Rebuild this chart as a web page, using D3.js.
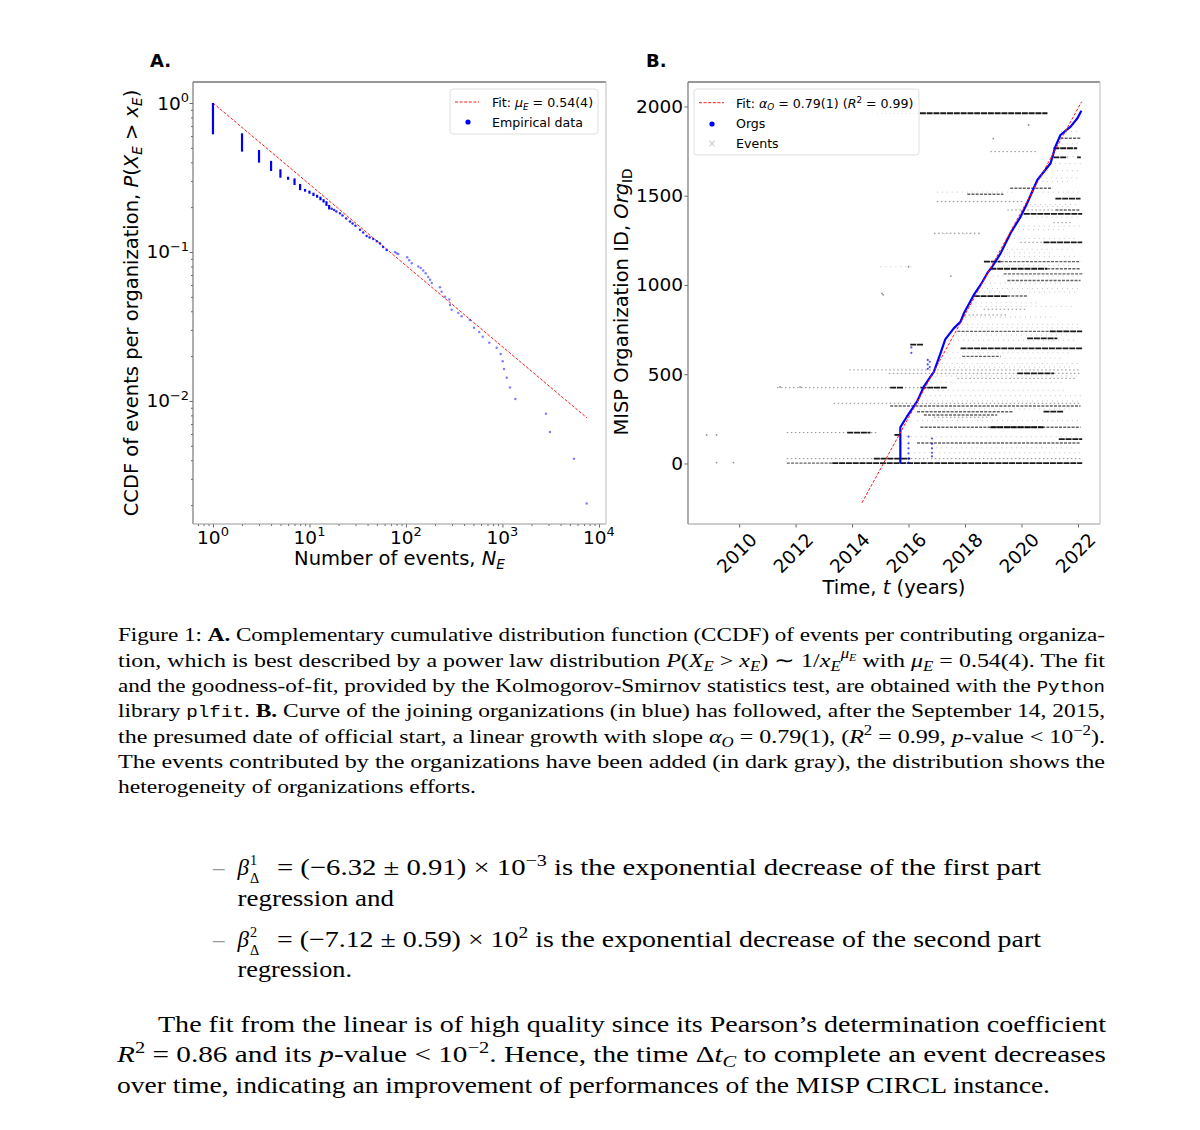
<!DOCTYPE html>
<html><head><meta charset="utf-8">
<script src="https://cdn.jsdelivr.net/npm/d3@7"></script>
<style>html,body{margin:0;padding:0;background:#fff;} svg{display:block;}</style>
</head><body>
<svg id="c" width="1200" height="1130"></svg>
<script>
// ---------------- DATA ----------------
// Panel A: CCDF of events per organization (log-log)
const stackN   = [1, 2, 3, 4, 5, 6, 7, 8, 9, 10, 11, 12, 13, 14, 15, 16];
const stackTop = [1.000, 0.626, 0.484, 0.409, 0.359, 0.320, 0.312, 0.286, 0.265, 0.258, 0.250, 0.242, 0.235, 0.226, 0.219, 0.207];
const stackBot = [0.626, 0.479, 0.404, 0.355, 0.320, 0.310, 0.286, 0.264, 0.258, 0.250, 0.241, 0.235, 0.226, 0.218, 0.207, 0.196];
const tailN = [17, 18, 19, 20.7, 22, 24, 26.3, 28, 30, 33.4, 36, 39.1, 42, 45.8, 50, 53.8, 58, 63.1,
               76.9, 80, 83.2, 103, 108, 115, 134, 142, 151, 160, 170, 178, 185, 225, 234, 254, 281, 286, 298,
               348, 378, 460, 507, 575, 624, 730, 871, 958, 1005, 1037, 1106, 1197, 1359, 2827, 3105, 5508, 7460];
const tailP = [0.195, 0.191, 0.187, 0.182, 0.176, 0.168, 0.160, 0.155, 0.150, 0.141, 0.135, 0.128, 0.125, 0.122, 0.118, 0.114, 0.108, 0.103,
               0.100, 0.098, 0.097, 0.092, 0.088, 0.084, 0.080, 0.078, 0.075, 0.072, 0.068, 0.065, 0.062, 0.058, 0.054, 0.050, 0.048, 0.044, 0.041,
               0.039, 0.037, 0.035, 0.031, 0.029, 0.027, 0.0246, 0.0228, 0.0207, 0.0185, 0.0164, 0.0143, 0.0123, 0.0103, 0.0082, 0.0062, 0.0041, 0.00205];
const fitAN = [1, 7500];
const fitAP = [1.0, 0.0077];
const xTickA = [1, 10, 100, 1000, 10000];
const xTickAExp = ['0', '1', '2', '3', '4'];
const yTickA = [0.01, 0.1, 1];
const yTickAExp = ['−2', '−1', '0'];

// Panel B: organization IDs over time
const orgT = [2015.71, 2015.71, 2015.94, 2016.3, 2016.54, 2016.9, 2017.13, 2017.3, 2017.6, 2017.84, 2017.96, 2018.31, 2018.55,
              2018.79, 2018.96, 2019.26, 2019.61, 2019.96, 2020.2, 2020.56, 2021.03, 2021.2, 2021.38, 2021.74, 2021.98, 2022.12];
const orgV = [0, 203, 262, 346, 430, 514, 617, 695, 757, 794, 841, 944, 1000,
              1066, 1102, 1177, 1290, 1380, 1458, 1588, 1682, 1775, 1840, 1887, 1934, 1976];
const orgOutT = [2016.0, 2016.0, 2016.0, 2016.0, 2016.0, 2016.0, 2016.83, 2016.83, 2016.83, 2016.83, 2016.83, 2016.68, 2016.68, 2016.68, 2016.75, 2016.75, 2016.1, 2016.1];
const orgOutV = [150, 113, 85, 57, 29, 5, 140, 110, 85, 60, 40, 580, 555, 530, 570, 540, 620, 650];
const fitBT = [2014.35, 2022.13];
const fitBV = [-220, 2027];
// event streaks: [orgID, start year, end year, density level 0..3]
const eventRows = [
  [1962, 2014.88, 2016.4, 1], [1962, 2016.4, 2020.92, 3],
  [1822, 2021.38, 2022.09, 2], [1766, 2021.13, 2021.97, 3], [1747, 2018.9, 2020.56, 1],
  [1715, 2021.13, 2021.62, 3], [1715, 2021.97, 2022.1, 3],
  [1542, 2019.6, 2021.09, 2], [1508, 2018.08, 2019.36, 2], [1484, 2021.2, 2022.09, 3],
  [1467, 2017.0, 2020.07, 1], [1420, 2019.5, 2021.2, 1], [1420, 2021.2, 2022.09, 2],
  [1398, 2020.08, 2022.15, 3], [1349, 2021.13, 2021.74, 1], [1290, 2016.9, 2018.55, 1],
  [1239, 2019.96, 2020.78, 1], [1239, 2020.78, 2022.15, 3],
  [1131, 2018.67, 2019.26, 3], [1131, 2019.26, 2022.09, 2],
  [1091, 2018.9, 2020.91, 3], [1091, 2020.91, 2022.09, 2],
  [1062, 2019.37, 2022.15, 2], [1025, 2019.5, 2022.09, 2],
  [938, 2018.31, 2019.49, 3], [938, 2019.49, 2020.2, 2],
  [864, 2018.66, 2020.2, 1], [832, 2017.98, 2019.5, 1],
  [740, 2017.73, 2021.0, 2], [740, 2021.0, 2022.15, 3],
  [701, 2020.2, 2021.27, 3], [666, 2016.06, 2016.53, 3], [645, 2017.84, 2022.15, 3],
  [600, 2017.9, 2019.26, 2], [524, 2013.9, 2022.1, 1],
  [505, 2015.3, 2019.85, 1], [505, 2019.85, 2021.15, 3], [505, 2021.15, 2022.09, 1],
  [477, 2017.73, 2021.97, 1],
  [425, 2011.34, 2017.37, 1], [425, 2015.35, 2015.82, 3], [425, 2016.42, 2017.37, 3],
  [337, 2013.35, 2022.09, 1], [322, 2015.35, 2022.09, 2],
  [290, 2016.3, 2019.7, 2], [290, 2020.78, 2021.5, 3],
  [272, 2016.54, 2019.14, 2], [259, 2016.9, 2018.9, 1],
  [203, 2016.42, 2022.09, 2], [203, 2018.9, 2020.78, 3],
  [173, 2011.69, 2014.88, 1], [173, 2013.83, 2014.65, 3], [160, 2015.5, 2015.7, 3],
  [136, 2021.32, 2022.15, 3], [115, 2016.3, 2022.09, 2],
  [27, 2011.69, 2022.09, 1], [27, 2014.77, 2016.06, 3],
  [2, 2011.69, 2013.3, 2], [2, 2013.3, 2022.15, 3],
  [60, 2016.2, 2022.1, 0], [88, 2016.8, 2021.9, 0], [150, 2015.9, 2022.0, 0], [240, 2016.3, 2022.0, 0],
  [305, 2016.2, 2021.8, 0], [350, 2016.3, 2022.1, 0], [380, 2016.4, 2022.1, 0], [410, 2016.5, 2021.6, 0],
  [455, 2016.6, 2021.5, 0], [490, 2016.8, 2022.0, 0], [540, 2016.9, 2021.8, 0], [560, 2017.0, 2022.1, 0],
  [590, 2017.1, 2021.4, 0], [620, 2017.2, 2021.7, 0], [690, 2017.4, 2022.0, 0], [720, 2017.5, 2021.6, 0],
  [760, 2017.7, 2022.0, 0], [780, 2017.9, 2022.1, 0], [820, 2018.0, 2021.2, 0], [880, 2018.2, 2021.9, 0],
  [900, 2018.2, 2020.6, 0], [960, 2018.5, 2022.0, 0], [980, 2018.6, 2022.1, 0], [1010, 2018.7, 2021.5, 0],
  [1050, 2018.8, 2022.1, 0], [1110, 2019.0, 2021.8, 0], [1160, 2019.2, 2022.0, 0], [1180, 2019.2, 2021.0, 0],
  [1200, 2019.3, 2021.8, 0], [1260, 2019.55, 2022.0, 0], [1310, 2019.7, 2021.5, 0], [1330, 2019.9, 2022.1, 0],
  [1380, 2020.0, 2022.0, 0], [1440, 2020.2, 2021.7, 0], [1450, 2020.3, 2022.0, 0], [1520, 2020.4, 2022.1, 0],
  [1580, 2020.55, 2021.8, 0], [1600, 2020.7, 2022.1, 0], [1640, 2020.9, 2022.0, 0], [1680, 2021.0, 2022.1, 0],
  [1720, 2021.1, 2022.0, 0], [1790, 2021.25, 2022.1, 0], [1860, 2021.4, 2022.1, 0], [1930, 2021.9, 2022.1, 0],
  [1102, 2015.0, 2016.2, 0], [1286, 2016.9, 2018.6, 0], [1520, 2017.0, 2019.8, 0]
];
const eventDotT = [2008.85, 2009.2, 2009.2, 2009.8, 2015.1, 2015.06, 2020.25, 2011.45, 2012.16, 2016.0, 2017.5, 2019.0];
const eventDotV = [160, 160, 5, 5, 945, 953, 1896, 429, 429, 1102, 1050, 1820];
const yearTicks = [2010, 2012, 2014, 2016, 2018, 2020, 2022];
const orgTicks = [0, 500, 1000, 1500, 2000];

// ---------------- DRAWING ----------------
const svg = d3.select('#c');
svg.append('rect').attr('width', 1200).attr('height', 1130).attr('fill', '#fff');
const SANS = "'DejaVu Sans', sans-serif";
const SERIF = "'Liberation Serif', 'Times New Roman', serif";
const MONO = "'Liberation Mono', monospace";

const n = t => ({t});
const it = t => ({t, i: 1});
const bd = t => ({t, b: 1});
const tt = t => ({t, tt: 1, sz: 0.82});
const sub = (t, i) => ({t, i, sz: 0.7, off: 0.22});
const sup = (t, i) => ({t, i, sz: 0.7, off: -0.38});

function rich(parent, x, y, segs, fs, family, anchor, fill) {
  const t = parent.append('text').attr('x', x).attr('y', y).attr('font-size', fs)
    .attr('font-family', family).attr('fill', fill || '#000');
  if (anchor) t.attr('text-anchor', anchor);
  let cur = 0;
  segs.forEach(s => {
    const sz = (s.sz || 1) * fs;
    const off = (s.off || 0) * fs;
    const ts = t.append('tspan').text(s.t).attr('font-size', sz);
    if (off !== cur) ts.attr('dy', off - cur);
    if (s.dx) ts.attr('dx', s.dx);
    cur = off;
    if (s.i) ts.attr('font-style', 'italic');
    if (s.b) ts.attr('font-weight', 'bold');
    if (s.tt) ts.attr('font-family', MONO);
  });
  return t;
}

function spines(g, x0, x1, y0, y1) {
  g.append('line').attr('x1', x0).attr('x2', x1).attr('y1', y0).attr('y2', y0).attr('stroke', '#333').attr('stroke-width', 1.2);
  g.append('line').attr('x1', x0).attr('x2', x0).attr('y1', y0).attr('y2', y1).attr('stroke', '#777').attr('stroke-width', 1.2);
  g.append('line').attr('x1', x0).attr('x2', x1).attr('y1', y1).attr('y2', y1).attr('stroke', '#999').attr('stroke-width', 1.2);
  g.append('line').attr('x1', x1).attr('x2', x1).attr('y1', y0).attr('y2', y1).attr('stroke', '#c8c8c8').attr('stroke-width', 1.2);
}

function styleAxis(sel) {
  sel.select('.domain').remove();
  sel.selectAll('.tick line').attr('stroke', '#666');
}

const defs = svg.append('defs');
defs.append('clipPath').attr('id', 'clipA').append('rect').attr('x', 193).attr('y', 82).attr('width', 413).attr('height', 442);
defs.append('clipPath').attr('id', 'clipB').append('rect').attr('x', 688).attr('y', 82).attr('width', 412).attr('height', 442);

const TICK_FS = 18.5, LAB_FS = 19.5, LEG_FS = 12.6;

// ===== Panel A =====
const gA = svg.append('g');
const xA = d3.scaleLog().domain([Math.pow(10, -0.207), Math.pow(10, 4.073)]).range([193, 606]);
const yA = d3.scaleLog().domain([Math.pow(10, -2.826), Math.pow(10, 0.141)]).range([524, 82]);

const minorXA = [], minorYA = [];
for (let e = -1; e <= 4; e++) for (let m = 2; m <= 9; m++) { const v = m * Math.pow(10, e); if (v >= xA.domain()[0] && v <= xA.domain()[1]) minorXA.push(v); }
for (let e = -3; e <= 0; e++) for (let m = 2; m <= 9; m++) { const v = m * Math.pow(10, e); if (v >= yA.domain()[0] && v <= yA.domain()[1]) minorYA.push(v); }

styleAxis(gA.append('g').attr('transform', 'translate(0,524)').call(d3.axisBottom(xA).tickValues(xTickA).tickSize(3.5).tickFormat('')));
styleAxis(gA.append('g').attr('transform', 'translate(0,524)').call(d3.axisBottom(xA).tickValues(minorXA).tickSize(2).tickFormat('')));
styleAxis(gA.append('g').attr('transform', 'translate(193,0)').call(d3.axisLeft(yA).tickValues(yTickA).tickSize(3.5).tickFormat('')));
styleAxis(gA.append('g').attr('transform', 'translate(193,0)').call(d3.axisLeft(yA).tickValues(minorYA).tickSize(2).tickFormat('')));

xTickA.forEach((v, k) => rich(gA, xA(v), 543.5, [n('10'), sup(xTickAExp[k])], TICK_FS, SANS, 'middle'));
yTickA.forEach((v, k) => rich(gA, 189, yA(v) + 6.5, [n('10'), sup(yTickAExp[k])], TICK_FS, SANS, 'end'));

const plotA = gA.append('g').attr('clip-path', 'url(#clipA)');
plotA.append('line').attr('x1', xA(fitAN[0])).attr('y1', yA(fitAP[0])).attr('x2', xA(fitAN[1])).attr('y2', yA(fitAP[1]))
  .attr('stroke', '#ff1a1a').attr('stroke-width', 1).attr('stroke-dasharray', '3,1.6');
plotA.selectAll('line.stk').data(stackN).enter().append('line').attr('class', 'stk')
  .attr('x1', d => xA(d)).attr('x2', d => xA(d))
  .attr('y1', (d, k) => yA(stackTop[k])).attr('y2', (d, k) => yA(stackBot[k]) + 1)
  .attr('stroke', '#0000ee').attr('stroke-width', 2.2);
plotA.selectAll('circle.tail').data(tailN).enter().append('circle').attr('class', 'tail')
  .attr('cx', d => xA(d)).attr('cy', (d, k) => yA(tailP[k])).attr('r', 1.25)
  .attr('fill', '#0000ff').attr('fill-opacity', (d, k) => k < 18 ? 0.85 : 0.5);

spines(gA, 193, 606, 82, 524);

rich(gA, 399.5, 565, [n('Number of events, '), it('N'), sub('E', 1)], LAB_FS, SANS, 'middle');
rich(gA.append('g').attr('transform', 'translate(138,303) rotate(-90)'), 0, 0,
  [n('CCDF of events per organization, '), it('P'), n('('), it('X'), sub('E', 1), n(' > '), it('x'), sub('E', 1), n(')')], LAB_FS, SANS, 'middle');
gA.append('text').attr('x', 150).attr('y', 67).attr('font-family', SANS).attr('font-weight', 'bold').attr('font-size', 18).text('A.');

const lgA = gA.append('g');
lgA.append('rect').attr('x', 450).attr('y', 89).attr('width', 148).attr('height', 45).attr('rx', 3)
  .attr('fill', '#fff').attr('fill-opacity', 0.8).attr('stroke', '#e0e0e0');
lgA.append('line').attr('x1', 455).attr('x2', 479).attr('y1', 102).attr('y2', 102).attr('stroke', '#ff1a1a').attr('stroke-dasharray', '3,1.6');
rich(lgA, 492, 107, [n('Fit: '), it('μ'), sub('E', 1), n(' = 0.54(4)')], LEG_FS, SANS);
lgA.append('circle').attr('cx', 468).attr('cy', 122).attr('r', 2.6).attr('fill', '#0000ff');
rich(lgA, 492, 126.5, [n('Empirical data')], LEG_FS, SANS);

// ===== Panel B =====
const gB = svg.append('g');
const xB = d3.scaleLinear().domain([2008.19, 2022.78]).range([688, 1100]);
const yB = d3.scaleLinear().domain([-339, 2137]).range([524, 82]);

styleAxis(gB.append('g').attr('transform', 'translate(0,524)').call(d3.axisBottom(xB).tickValues(yearTicks).tickSize(3.5).tickFormat('')));
styleAxis(gB.append('g').attr('transform', 'translate(688,0)').call(d3.axisLeft(yB).tickValues(orgTicks).tickSize(3.5).tickFormat('')));
yearTicks.forEach(v => {
  gB.append('text').attr('transform', `translate(${xB(v) - 2.3},553) rotate(-45)`)
    .attr('text-anchor', 'middle').attr('dominant-baseline', 'central')
    .attr('font-family', SANS).attr('font-size', TICK_FS).text(v);
});
orgTicks.forEach(v => {
  gB.append('text').attr('x', 683).attr('y', yB(v) + 6.5).attr('text-anchor', 'end')
    .attr('font-family', SANS).attr('font-size', TICK_FS).text(v);
});

const plotB = gB.append('g').attr('clip-path', 'url(#clipB)');
const lvlStyle = [
  {c: '#444', w: 1, d: '1,4', o: 0.3},
  {c: '#222', w: 1, d: '1.5,2.5', o: 0.5},
  {c: '#111', w: 1.4, d: '3,1.2', o: 0.65},
  {c: '#000', w: 1.8, d: '6,0.8', o: 0.9}
];
plotB.selectAll('line.ev').data(eventRows).enter().append('line').attr('class', 'ev')
  .attr('x1', d => xB(d[1])).attr('x2', d => xB(d[2]))
  .attr('y1', d => yB(d[0])).attr('y2', d => yB(d[0]))
  .attr('stroke', d => lvlStyle[d[3]].c).attr('stroke-width', d => lvlStyle[d[3]].w)
  .attr('stroke-dasharray', d => lvlStyle[d[3]].d).attr('stroke-opacity', d => lvlStyle[d[3]].o);
plotB.selectAll('circle.evd').data(eventDotT).enter().append('circle').attr('class', 'evd')
  .attr('cx', d => xB(d)).attr('cy', (d, k) => yB(eventDotV[k])).attr('r', 0.9).attr('fill', '#444').attr('fill-opacity', 0.6);

const orgLine = d3.line().x(d => xB(d[0])).y(d => yB(d[1]));
plotB.append('path').attr('d', orgLine(orgT.map((t, k) => [t, orgV[k]])))
  .attr('fill', 'none').attr('stroke', '#0000ff').attr('stroke-width', 2.2).attr('stroke-linejoin', 'round');
plotB.selectAll('circle.oo').data(orgOutT).enter().append('circle').attr('class', 'oo')
  .attr('cx', d => xB(d)).attr('cy', (d, k) => yB(orgOutV[k])).attr('r', 1.1).attr('fill', '#0000ff').attr('fill-opacity', 0.7);
plotB.append('line').attr('x1', xB(fitBT[0])).attr('y1', yB(fitBV[0])).attr('x2', xB(fitBT[1])).attr('y2', yB(fitBV[1]))
  .attr('stroke', '#ff1a1a').attr('stroke-width', 1).attr('stroke-dasharray', '3,1.6');

spines(gB, 688, 1100, 82, 524);

const lgB = gB.append('g');
lgB.append('rect').attr('x', 694).attr('y', 89).attr('width', 225).attr('height', 66).attr('rx', 3)
  .attr('fill', '#fff').attr('fill-opacity', 0.8).attr('stroke', '#e0e0e0');
lgB.append('line').attr('x1', 699).attr('x2', 724).attr('y1', 102.7).attr('y2', 102.7).attr('stroke', '#ff1a1a').attr('stroke-dasharray', '3,1.6');
rich(lgB, 736, 107.7, [n('Fit: '), it('α'), sub('O', 1), n(' = 0.79(1) ('), it('R'), sup('2'), n(' = 0.99)')], LEG_FS, SANS);
lgB.append('circle').attr('cx', 712).attr('cy', 124).attr('r', 2.6).attr('fill', '#0000ff');
rich(lgB, 736, 128.3, [n('Orgs')], LEG_FS, SANS);
lgB.append('text').attr('x', 712).attr('y', 147).attr('text-anchor', 'middle').attr('font-family', SANS).attr('font-size', 10).attr('fill', '#c8c8c8').text('×');
rich(lgB, 736, 148.3, [n('Events')], LEG_FS, SANS);

rich(gB, 894, 594, [n('Time, '), it('t'), n(' (years)')], LAB_FS, SANS, 'middle');
rich(gB.append('g').attr('transform', 'translate(628,302) rotate(-90)'), 0, 0,
  [n('MISP Organization ID, '), it('Org'), sub('ID')], LAB_FS, SANS, 'middle');
gB.append('text').attr('x', 646).attr('y', 67).attr('font-family', SANS).attr('font-weight', 'bold').attr('font-size', 18).text('B.');

// ===== Text below =====
const gT = svg.append('g');
function line(x, y, x2, segs, fs) {
  const t = rich(gT, x, y, segs, fs, SERIF);
  t.attr('textLength', x2 - x).attr('lengthAdjust', 'spacingAndGlyphs');
  return t;
}
const capFs = 19.5;
const capLines = [
  [641, 1105, [n('Figure 1: '), bd('A.'), n(' Complementary cumulative distribution function (CCDF) of events per contributing organiza-')]],
  [666.5, 1105, [n('tion, which is best described by a power law distribution '), it('P'), n('('), it('X'), sub('E', 1), n(' > '), it('x'), sub('E', 1),
    n(') ∼ 1/'), it('x'), sub('E', 1), {t: 'μ', i: 1, sz: 0.7, off: -0.42}, {t: 'E', i: 1, sz: 0.5, off: -0.3}, n(' with '), it('μ'), sub('E', 1), n(' = 0.54(4). The fit')]],
  [691.8, 1105, [n('and the goodness-of-fit, provided by the Kolmogorov-Smirnov statistics test, are obtained with the '), tt('Python')]],
  [717.2, 1105, [n('library '), tt('plfit'), n('. '), bd('B.'), n(' Curve of the joining organizations (in blue) has followed, after the September 14, 2015,')]],
  [742.6, 1105, [n('the presumed date of official start, a linear growth with slope '), it('α'), sub('O', 1), n(' = 0.79(1), ('), it('R'), sup('2'),
    n(' = 0.99, '), it('p'), n('-value < 10'), sup('−2'), n(').')]],
  [768, 1105, [n('The events contributed by the organizations have been added (in dark gray), the distribution shows the')]],
  [793.4, 476, [n('heterogeneity of organizations efforts.')]]
];
capLines.forEach(L => line(118, L[0], L[1], L[2], capFs));

const pFs = 23;
gT.append('text').attr('x', 213).attr('y', 875).attr('font-family', SERIF).attr('font-size', pFs).attr('fill', '#999').text('–');
gT.append('text').attr('x', 213).attr('y', 946.7).attr('font-family', SERIF).attr('font-size', pFs).attr('fill', '#999').text('–');
function beta(y, k) {
  // β with stacked superscript k and subscript Δ, in one text element
  rich(gT, 237.5, y, [it('β'), {t: k, sz: 0.62, off: -0.42, dx: 1}, {t: 'Δ', sz: 0.62, off: 0.34, dx: -pFs * 0.62 * 0.5}], pFs, SERIF);
}
beta(875, '1');
line(277, 875, 1041, [n('= (−6.32 ± 0.91) × 10'), sup('−3'), n(' is the exponential decrease of the first part')], pFs);
line(237.5, 905.5, 394, [n('regression and')], pFs);
beta(946.7, '2');
line(277, 946.7, 1041, [n('= (−7.12 ± 0.59) × 10'), sup('2'), n(' is the exponential decrease of the second part')], pFs);
line(237.5, 976.7, 352, [n('regression.')], pFs);
line(158, 1031.7, 1106, [n('The fit from the linear is of high quality since its Pearson’s determination coefficient')], pFs);
line(117, 1061.7, 1106, [it('R'), sup('2'), n(' = 0.86 and its '), it('p'), n('-value < 10'), sup('−2'), n('. Hence, the time Δ'), it('t'), sub('C', 1),
  n(' to complete an event decreases')], pFs);
line(117, 1092.5, 1050, [n('over time, indicating an improvement of performances of the MISP CIRCL instance.')], pFs);
</script>
</body></html>
